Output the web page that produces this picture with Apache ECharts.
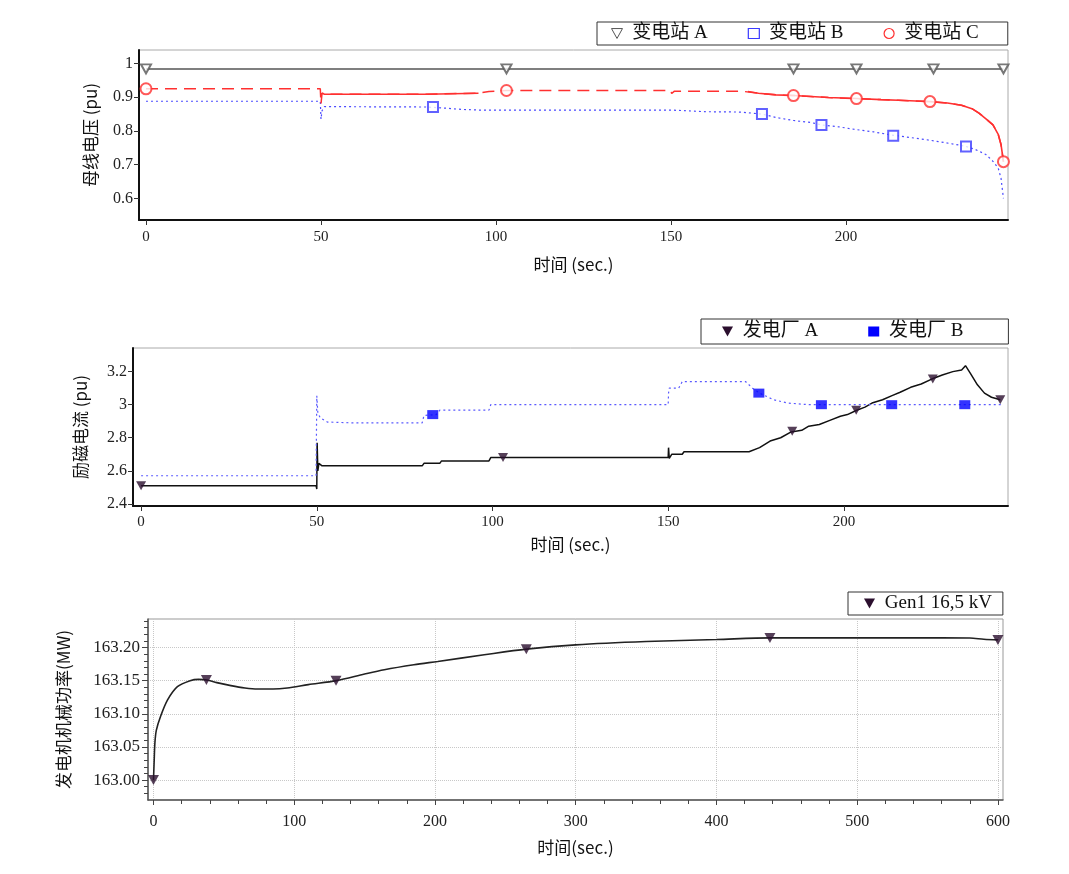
<!DOCTYPE html>
<html><head><meta charset="utf-8">
<script src="https://cdn.jsdelivr.net/npm/echarts@6/dist/echarts.min.js"></script>
<style>html,body{margin:0;padding:0;background:#fff}#c{width:1069px;height:874px}</style>
</head><body><div id="c"></div>
<script>
// ---------- chart 1: bus voltage ----------
const topXTicks = [0, 50, 100, 150, 200];
const topYTicks = [0.6, 0.7, 0.8, 0.9, 1];
const stationA = [[0, 0.984], [245, 0.984]];
const stationAMarks = [[0, 0.984], [103, 0.984], [185, 0.984], [203, 0.984], [225, 0.984], [245, 0.984]];
const stationC = [[0, 0.925], [49.8, 0.925], [50, 0.88], [50.3, 0.912], [51, 0.909], [80, 0.909], [80.5, 0.911], [95, 0.912], [98, 0.917], [103, 0.920], [150, 0.920], [150.2, 0.911], [151, 0.918], [170, 0.918], [175, 0.912], [180, 0.907], [185, 0.905], [190, 0.902], [195, 0.899], [203, 0.896], [210, 0.893], [215, 0.891], [220, 0.889], [224, 0.887], [229, 0.883], [233, 0.876], [236, 0.866], [238, 0.853], [240, 0.836], [242, 0.818], [243.5, 0.79], [244.3, 0.76], [245, 0.709]];
const stationCSolid1 = [[50.3, 0.912], [51, 0.909], [80, 0.909], [80.5, 0.911], [95, 0.912]];
const stationCSolid2 = [[172, 0.917], [175, 0.912], [180, 0.907], [185, 0.905], [190, 0.902], [195, 0.899], [203, 0.896], [210, 0.893], [215, 0.891], [220, 0.889], [224, 0.887], [229, 0.883], [233, 0.876], [236, 0.866], [238, 0.853], [240, 0.836], [242, 0.818], [243.5, 0.79], [244.3, 0.76], [245, 0.709]];
const stationCMarks = [[0, 0.925], [103, 0.920], [185, 0.905], [203, 0.896], [224, 0.887], [245, 0.709]];
const stationB = [[0, 0.888], [49.8, 0.888], [50, 0.835], [50.3, 0.86], [51, 0.872], [55, 0.872], [80, 0.871], [85, 0.868], [90, 0.864], [95, 0.862], [150, 0.862], [150.5, 0.858], [160, 0.857], [170, 0.856], [173, 0.853], [176, 0.850], [180, 0.84], [185, 0.831], [190, 0.825], [193, 0.818], [198, 0.812], [203, 0.804], [208, 0.797], [213, 0.788], [218, 0.781], [223, 0.774], [228, 0.766], [234, 0.755], [237, 0.745], [240, 0.73], [242, 0.71], [243.5, 0.69], [244.3, 0.66], [245, 0.60]];
const stationBMarks = [[82, 0.871], [176, 0.850], [193, 0.818], [213.5, 0.786], [234.3, 0.754]];

// ---------- chart 2: excitation current ----------
const midXTicks = [0, 50, 100, 150, 200];
const midYTicks = [2.4, 2.6, 2.8, 3, 3.2];
const plantA = [[0, 2.51], [49.8, 2.51], [50, 2.49], [50.1, 2.77], [50.3, 2.6], [50.6, 2.645], [51.5, 2.63], [80, 2.63], [80.5, 2.645], [85, 2.645], [85.5, 2.66], [99, 2.66], [99.5, 2.68], [150, 2.68], [150.1, 2.74], [150.3, 2.675], [151, 2.70], [154, 2.70], [154.5, 2.715], [173, 2.715], [176, 2.74], [179, 2.78], [182, 2.80], [185, 2.835], [188, 2.845], [190, 2.87], [193, 2.88], [196, 2.905], [199, 2.93], [201, 2.94], [203.5, 2.965], [206, 2.985], [208, 3.01], [211, 3.03], [213.7, 3.055], [216, 3.075], [219, 3.105], [222, 3.125], [225, 3.155], [228, 3.18], [231, 3.2], [233.5, 3.21], [234.6, 3.236], [236, 3.19], [238, 3.12], [240, 3.07], [242, 3.045], [244.5, 3.03]];
const plantAMarks = [[0, 2.51], [103, 2.68], [185.3, 2.839], [203.5, 2.966], [225.3, 3.155], [244.5, 3.03]];
const plantB = [[0, 2.57], [49.8, 2.57], [50, 3.054], [50.3, 2.95], [51, 2.92], [53, 2.895], [60, 2.89], [80, 2.89], [80.5, 2.935], [84, 2.94], [85, 2.967], [99, 2.967], [99.5, 3.0], [150, 3.0], [150.1, 3.07], [150.3, 3.1], [153, 3.1], [154, 3.14], [172, 3.14], [174, 3.1], [176, 3.07], [180, 3.03], [184, 3.01], [190, 3.0], [245, 3.0]];
const plantBMarks = [[83, 2.94], [175.8, 3.07], [193.6, 3.0], [213.6, 3.0], [234.4, 3.0]];

// ---------- chart 3: mechanical power ----------
const botXTicks = [0, 100, 200, 300, 400, 500, 600];
const botYTicks = [163.00, 163.05, 163.10, 163.15, 163.20];
const gen1 = [[0, 163.0], [0.5, 163.03], [1, 163.056], [2, 163.075], [5, 163.096], [10, 163.121], [17, 163.141], [26, 163.15], [32, 163.152], [38, 163.151], [45, 163.147], [55, 163.1425], [65, 163.139], [74, 163.1375], [85, 163.1375], [95, 163.139], [110, 163.144], [130, 163.15], [150, 163.16], [164, 163.1665], [185, 163.174], [202, 163.179], [235, 163.189], [265, 163.1975], [300, 163.204], [350, 163.209], [400, 163.212], [438, 163.2145], [500, 163.2145], [560, 163.2145], [580, 163.2143], [590, 163.2125], [600, 163.2115]];
const gen1Marks = [[0, 163.0], [37.6, 163.151], [129.7, 163.15], [264.9, 163.1975], [438, 163.2145], [600, 163.2115]];

const botXMinor = []; for (let v = 0; v <= 600; v += 20) botXMinor.push(v);
const botYMinor = []; for (let i = -2; i <= 24; i++) botYMinor.push(+(163 + i * 0.01).toFixed(2));

const FONT = "'Liberation Serif', 'Noto Sans CJK SC', serif";
const CJK = "'Noto Sans CJK SC', 'Liberation Serif', sans-serif";
const DOWN = 'path://M0,0L10,0L5,9Z';

const chart = echarts.init(document.getElementById('c'), null, {renderer: 'canvas'});

function frameX(grid, min, max, ticks, opt) {
  return Object.assign({
    type: 'value', gridIndex: grid, min: min, max: max, position: 'bottom',
    name: '时间 (sec.)', nameLocation: 'middle', nameGap: 36,
    nameTextStyle: {fontFamily: CJK, fontSize: 17, color: '#111'},
    axisLine: {show: true, onZero: false, lineStyle: {color: '#111', width: 2}},
    axisTick: {show: true, customValues: ticks, length: 5, lineStyle: {color: '#333'}},
    axisLabel: {customValues: ticks, fontFamily: FONT, fontSize: 15, color: '#222', margin: 10},
    splitLine: {show: false}
  }, opt || {});
}
function frameY(grid, min, max, ticks, name, gap, fmt, opt) {
  return Object.assign({
    type: 'value', gridIndex: grid, min: min, max: max, position: 'left',
    name: name, nameLocation: 'middle', nameGap: gap, nameRotate: 90,
    nameTextStyle: {fontFamily: CJK, fontSize: 17, color: '#111'},
    axisLine: {show: true, onZero: false, lineStyle: {color: '#111', width: 2}},
    axisTick: {show: true, customValues: ticks, length: 5, lineStyle: {color: '#333'}},
    axisLabel: {customValues: ticks, fontFamily: FONT, fontSize: 16, color: '#222', margin: 6, formatter: fmt},
    splitLine: {show: false}
  }, opt || {});
}

const option = {
  animation: false,
  backgroundColor: '#fff',
  grid: [
    {left: 139, top: 50, width: 869, height: 170, show: true, borderColor: '#aaa', borderWidth: 1},
    {left: 133, top: 348, width: 875, height: 158, show: true, borderColor: '#aaa', borderWidth: 1},
    {left: 148, top: 619, width: 855, height: 181, show: true, borderColor: '#999', borderWidth: 1}
  ],
  legend: [
    {left: 597, top: 22, padding: [2, 29, 2, 14], itemGap: 40, itemWidth: 11, itemHeight: 10,
     borderColor: '#333', borderWidth: 1, selectedMode: false,
     textStyle: {fontFamily: FONT, fontSize: 19, color: '#111'},
     formatter: n => ' ' + n,
     data: [
      {name: '变电站 A', icon: DOWN, itemStyle: {color: '#fff', borderColor: '#555', borderWidth: 1}},
      {name: '变电站 B', icon: 'rect', itemStyle: {color: '#fff', borderColor: '#3a3aff', borderWidth: 1.2}},
      {name: '变电站 C', icon: 'circle', itemStyle: {color: '#fff', borderColor: '#ff3030', borderWidth: 1.2}}
     ]},
    {left: 701, top: 319, padding: [3, 45, 3, 21], itemGap: 50, itemWidth: 11, itemHeight: 10,
     borderColor: '#333', borderWidth: 1, selectedMode: false,
     textStyle: {fontFamily: FONT, fontSize: 19, color: '#111'},
     formatter: n => ' ' + n,
     data: [
      {name: '发电厂 A', icon: DOWN, itemStyle: {color: '#2b0f2e'}},
      {name: '发电厂 B', icon: 'rect', itemStyle: {color: '#0000ff'}}
     ]},
    {left: 848, top: 592, padding: [2, 11, 2, 16], itemWidth: 11, itemHeight: 10,
     borderColor: '#333', borderWidth: 1, selectedMode: false,
     textStyle: {fontFamily: FONT, fontSize: 19, color: '#111'},
     formatter: n => ' ' + n,
     data: [{name: 'Gen1 16,5 kV', icon: DOWN, itemStyle: {color: '#2b0f2e'}}]}
  ],
  xAxis: [
    frameX(0, -2, 246.3, topXTicks, {nameGap: 36}),
    frameX(1, -2.3, 246.7, midXTicks, {nameGap: 30, axisLabel: {customValues: midXTicks, fontFamily: FONT, fontSize: 15, color: '#222', margin: 9}}),
    frameX(2, -3.9, 603.6, botXTicks, {
      name: '时间(sec.)', nameGap: 39,
      axisLine: {show: true, onZero: false, lineStyle: {color: '#555', width: 1.5}},
      axisTick: {show: true, customValues: botXTicks, length: 5, lineStyle: {color: '#444'}},
      axisLabel: {customValues: botXTicks, fontFamily: FONT, fontSize: 16, color: '#222', margin: 14},
      splitLine: {show: true, lineStyle: {color: '#c8c8c8', type: 'dotted', width: 1}}
    }),
    {type: 'value', gridIndex: 2, min: -3.9, max: 603.6, position: 'bottom', offset: 0,
     axisLine: {show: false, onZero: false}, axisLabel: {show: false}, splitLine: {show: false},
     axisTick: {show: true, customValues: botXMinor, length: 4, lineStyle: {color: '#444'}}}
  ],
  yAxis: [
    frameY(0, 0.536, 1.04, topYTicks, '母线电压 (pu)', 40, v => String(+v.toFixed(1))),
    frameY(1, 2.387, 3.343, midYTicks, '励磁电流 (pu)', 44, v => String(+v.toFixed(1))),
    frameY(2, 162.97, 163.243, botYTicks, '发电机机械功率(MW)', 76, v => v.toFixed(2), {
      axisLine: {show: true, onZero: false, lineStyle: {color: '#555', width: 1.5}},
      axisTick: {show: true, customValues: botYTicks, length: 6, lineStyle: {color: '#444'}},
      axisLabel: {customValues: botYTicks, fontFamily: FONT, fontSize: 17, color: '#222', margin: 8, formatter: v => v.toFixed(2)},
      splitLine: {show: true, lineStyle: {color: '#c8c8c8', type: 'dotted', width: 1}}
    }),
    {type: 'value', gridIndex: 2, min: 162.97, max: 163.243, position: 'left', offset: 0,
     axisLine: {show: false, onZero: false}, axisLabel: {show: false}, splitLine: {show: false},
     axisTick: {show: true, customValues: botYMinor, length: 4, lineStyle: {color: '#444'}}}
  ],
  series: [
    // chart 1
    {name: '变电站 A', type: 'line', xAxisIndex: 0, yAxisIndex: 0, data: stationA, symbol: 'none',
     lineStyle: {color: '#555', width: 1.5}},
    {name: '变电站 B', type: 'line', xAxisIndex: 0, yAxisIndex: 0, data: stationB, symbol: 'none',
     lineStyle: {color: '#4a4aff', width: 1.2, type: [2, 3]}},
    {name: '变电站 C', type: 'line', xAxisIndex: 0, yAxisIndex: 0, data: stationC, symbol: 'none',
     lineStyle: {color: '#ff3030', width: 1.5, type: [12, 7]}},
    {name: '变电站 C', type: 'line', xAxisIndex: 0, yAxisIndex: 0, data: stationCSolid1, symbol: 'none',
     lineStyle: {color: '#ff3030', width: 1.5}},
    {name: '变电站 C', type: 'line', xAxisIndex: 0, yAxisIndex: 0, data: stationCSolid2, symbol: 'none',
     lineStyle: {color: '#ff3030', width: 1.6}},
    {name: '变电站 A', type: 'scatter', xAxisIndex: 0, yAxisIndex: 0, data: stationAMarks, symbol: 'emptyTriangle',
     symbolRotate: 180, symbolSize: [10, 9], itemStyle: {color: '#555', borderWidth: 1}, z: 5},
    {name: '变电站 B', type: 'scatter', xAxisIndex: 0, yAxisIndex: 0, data: stationBMarks, symbol: 'emptyRect',
     symbolSize: 10, itemStyle: {color: '#3a3aff', borderWidth: 1.2}, z: 5},
    {name: '变电站 C', type: 'scatter', xAxisIndex: 0, yAxisIndex: 0, data: stationCMarks, symbol: 'emptyCircle',
     symbolSize: 11, itemStyle: {color: '#ff3030', borderWidth: 1.2}, z: 5},
    // chart 2
    {name: '发电厂 A', type: 'line', xAxisIndex: 1, yAxisIndex: 1, data: plantA, symbol: 'none',
     lineStyle: {color: '#111', width: 1.5}},
    {name: '发电厂 B', type: 'line', xAxisIndex: 1, yAxisIndex: 1, data: plantB, symbol: 'none',
     lineStyle: {color: '#5a5aff', width: 1.2, type: [2, 3]}},
    {name: '发电厂 A', type: 'scatter', xAxisIndex: 1, yAxisIndex: 1, data: plantAMarks, symbol: DOWN,
     symbolSize: [10, 9], itemStyle: {color: '#2b0f2e'}, z: 5},
    {name: '发电厂 B', type: 'scatter', xAxisIndex: 1, yAxisIndex: 1, data: plantBMarks, symbol: 'rect',
     symbolSize: [11, 9], itemStyle: {color: '#0000ff'}, z: 5},
    // chart 3
    {name: 'Gen1 16,5 kV', type: 'line', xAxisIndex: 2, yAxisIndex: 2, data: gen1, symbol: 'none', smooth: 0.3,
     lineStyle: {color: '#222', width: 1.6}},
    {name: 'Gen1 16,5 kV', type: 'scatter', xAxisIndex: 2, yAxisIndex: 2, data: gen1Marks, symbol: DOWN,
     symbolSize: [11, 10], itemStyle: {color: '#2b0f2e'}, z: 5}
  ]
};
chart.setOption(option);
</script>
</body></html>
